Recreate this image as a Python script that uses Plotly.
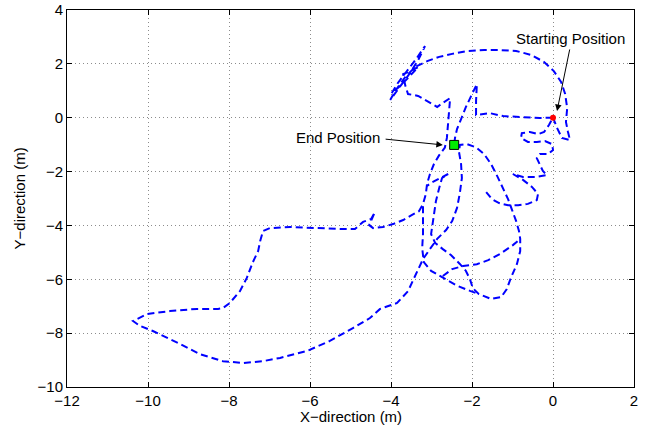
import plotly.graph_objects as go

# Trajectory (meters), in walking order; None marks a gap in the recorded track
x_path = [0.00, 0.10, 0.22, 0.42, 0.37, 0.32, 0.35, 0.30, 0.20, 0.02, -0.22, -0.54, -0.91, -1.31, -1.70, -2.10, -2.49, -2.81, -3.09,
          -3.41, -3.65, -3.88, -4.02, -3.78, -3.53, -3.33, -3.16, -3.38, -3.60, -3.83, -3.98, -3.75, -3.51, -3.33, -3.53, -3.70, -3.65, -3.58,
          -3.33, -3.11, -2.86, -2.72, -2.54, -2.57, -2.59, -2.62, -2.67,
          -2.81, -2.94, -3.04, -3.11, -3.14, -3.21, -3.31, -3.48, -3.70, -3.95, -4.20, -4.44, -4.54, -4.40, -4.49, -4.69, -4.89,
          -5.26, -6.00, -6.49, -6.99, -7.16, -7.23, -7.28, -7.41, -7.56, -7.73, -7.98, -8.15, -8.27, -8.79, -9.46, -10.02, -10.37,
          -10.20, -9.88, -9.21, -8.72, -8.15, -7.65, -7.16, -6.74, -6.07, -5.51, -4.94, -4.52, -4.27,
          -3.85, -3.58, -3.41, -3.21, -3.04, -2.86, -2.64, -2.49, -2.37, -2.30, -2.25, -2.27, -2.32, -2.30,
          -2.12, -1.90, -1.70, -1.53, -1.38, -1.23, -1.11, -1.01, -0.91, -0.84, -0.81,
          -0.81, -0.89, -1.04, -1.14, -1.28, -1.53, -1.83,
          -1.98, -2.05, -2.15, -2.30, -2.52, -2.72, -2.91, -3.01,
          -2.96, -2.89, -2.81, -2.74, -2.59, -2.79, -3.01, -3.11,
          None,
          -3.21, -3.21, -3.21, -3.23, -3.19, -3.01, -2.72,
          -2.37, -2.05, -1.85,
          None,
          -2.72, -2.49, -2.22, -1.88, -1.60, -1.31, -0.99, -0.81,
          None,
          -1.65, -1.51, -1.33,
          -1.11, -0.86, -0.62, -0.40, -0.37, -0.52, -0.74, -0.99,
          -0.74, -0.44, -0.15,
          -0.25, -0.32, -0.40, -0.32, -0.12, 0.00, -0.02,
          -0.20, -0.40, -0.62, -0.79, -0.77, -0.57, -0.37, -0.22, -0.10, 0.00,
          -0.32, -0.81, -1.23, -1.56, -1.75, -1.90,
          -1.90, -1.88,
          -2.02, -2.15, -2.27, -2.37, -2.42, -2.44]
y_path = [0.00, -0.38, -0.75, -0.83, -0.53, -0.16, 0.36, 0.88, 1.33, 1.73, 2.07, 2.33, 2.48, 2.51, 2.51, 2.48, 2.37, 2.26, 2.11,
          1.88, 1.51, 1.03, 0.66, 1.14, 1.66, 2.14, 2.66, 2.18, 1.73, 1.29, 0.92, 1.21, 1.59, 1.88, 1.73, 1.62, 1.21, 0.88,
          0.81, 0.62, 0.40, 0.55, 0.73, 0.17, -0.31, -0.75, -1.11,
          -1.39, -1.72, -2.10, -2.46, -2.84, -3.21, -3.47, -3.61, -3.80, -3.95, -4.06, -4.10, -3.99, -3.51, -3.76, -3.87, -4.13,
          -4.13, -4.10, -4.06, -4.10, -4.21, -4.58, -4.95, -5.36, -5.95, -6.44, -6.88, -7.07, -7.10, -7.10, -7.18, -7.29, -7.55,
          -7.73, -7.92, -8.40, -8.78, -9.04, -9.11, -9.04, -8.92, -8.66, -8.29, -7.81, -7.44, -7.10,
          -6.88, -6.44, -5.88, -5.25, -4.88, -4.50, -4.17, -3.84, -3.35, -2.80, -2.24, -1.72, -1.28, -1.01,
          -0.98, -1.10, -1.35, -1.72, -2.16, -2.61, -3.02, -3.43, -3.84, -4.21, -4.50,
          -4.95, -5.43, -5.95, -6.36, -6.66, -6.73, -6.55,
          -6.33, -6.00, -5.69, -5.43, -5.10, -4.88, -4.65, -4.32,
          -3.72, -3.09, -2.61, -2.24, -2.09, -2.24, -2.42, -2.53,
          None,
          -3.29, -3.76, -4.32, -4.84, -5.36, -5.69, -5.95,
          -6.24, -6.43, -6.54,
          None,
          -5.88, -5.62, -5.51, -5.44, -5.29, -5.06, -4.73, -4.50,
          None,
          -2.76, -3.02, -3.17,
          -3.25, -3.25, -3.20, -3.06, -2.83, -2.57, -2.31, -2.09,
          -2.20, -2.20, -2.13,
          -1.98, -1.76, -1.50, -1.35, -1.35, -1.20, -0.98,
          -0.87, -0.90, -0.90, -0.75, -0.57, -0.53, -0.61, -0.53, -0.27, 0.00,
          -0.01, 0.03, 0.06, 0.17, 0.14, 0.10,
          0.62, 1.25,
          0.81, 0.40, -0.05, -0.42, -0.75, -1.01]

start_pt = [0.0, 0.0]
end_pt = [-2.44, -1.01]

x_ticks = [-12, -10, -8, -6, -4, -2, 0, 2]
y_ticks = [-10, -8, -6, -4, -2, 0, 2, 4]

FONT = "Liberation Sans, Arial, Helvetica, sans-serif"

fig = go.Figure()
fig.add_trace(go.Scatter(x=x_path, y=y_path, mode="lines", connectgaps=False,
                         line=dict(color="#0000ff", width=2, dash="7px,4px"),
                         showlegend=False, hoverinfo="skip"))
fig.add_trace(go.Scatter(x=[start_pt[0]], y=[start_pt[1]], mode="markers",
                         marker=dict(color="#ff0000", size=6, symbol="circle",
                                     line=dict(width=0)),
                         showlegend=False))
fig.add_trace(go.Scatter(x=[end_pt[0]], y=[end_pt[1]], mode="markers",
                         marker=dict(color="#00ee00", size=9, symbol="square",
                                     line=dict(color="black", width=1)),
                         showlegend=False))

fig.add_annotation(x=0.10, y=0.25, ax=0.42, ay=2.59, axref="x", ayref="y",
                   text="", showarrow=True, arrowhead=2, arrowsize=1.3,
                   arrowwidth=1, arrowcolor="black", standoff=0, startstandoff=0)
fig.add_annotation(x=0.44, y=2.96, text="Starting Position", showarrow=False,
                   font=dict(family=FONT, size=15, color="black"))
fig.add_annotation(x=-2.72, y=-1.01, ax=-4.17, ay=-0.79, axref="x", ayref="y",
                   text="", showarrow=True, arrowhead=2, arrowsize=1.3,
                   arrowwidth=1, arrowcolor="black", standoff=0, startstandoff=0)
fig.add_annotation(x=-5.31, y=-0.75, text="End Position", showarrow=False,
                   font=dict(family=FONT, size=15, color="black"))

# axis titles placed as paper annotations
fig.add_annotation(xref="paper", yref="paper", x=0.5, y=-0.077, yanchor="middle",
                   text="X\u2212direction (m)", showarrow=False,
                   font=dict(family=FONT, size=15, color="black"))
fig.add_annotation(xref="paper", yref="paper", x=-0.083, y=0.5, xanchor="center",
                   yanchor="middle", textangle=-90,
                   text="Y\u2212direction (m)", showarrow=False,
                   font=dict(family=FONT, size=15, color="black"))

axis_common = dict(showline=True, linecolor="black", linewidth=1, mirror="ticks",
                   ticks="inside", ticklen=5, tickcolor="black",
                   showgrid=True, gridcolor="#8c8c8c", griddash="1px,3px", gridwidth=1,
                   zeroline=False, tickfont=dict(family=FONT, size=15, color="black"))

fig.update_xaxes(range=[-12, 2], tickvals=x_ticks, **axis_common)
fig.update_yaxes(range=[-10, 4], tickvals=y_ticks, **axis_common)

fig.update_layout(width=648, height=428,
                  margin=dict(l=67, r=14, t=10, b=41, autoexpand=False),
                  plot_bgcolor="white", paper_bgcolor="white")

fig.write_html("out.html")
